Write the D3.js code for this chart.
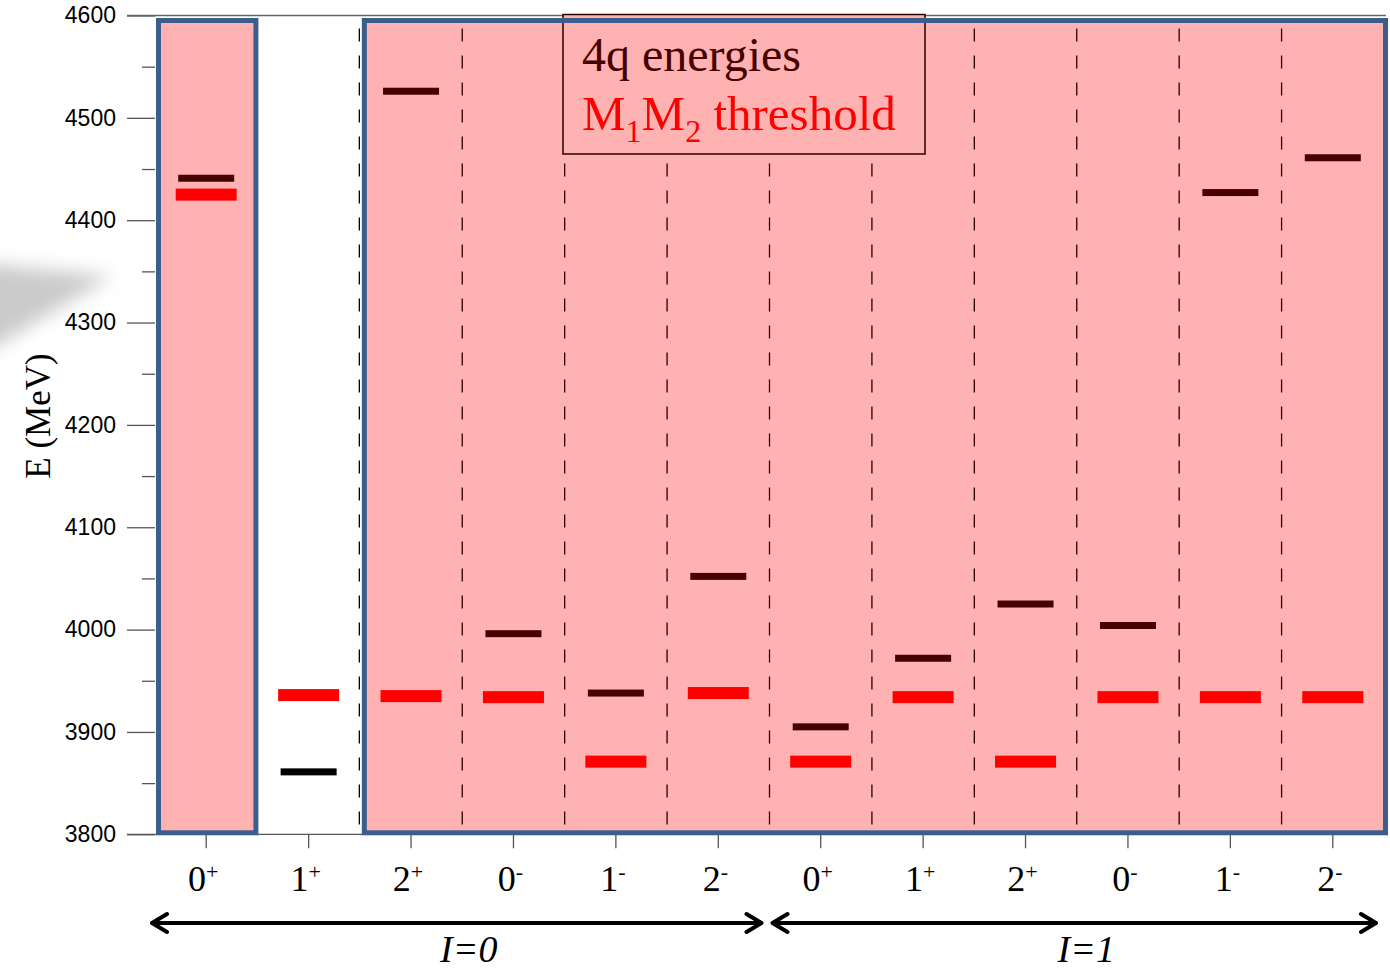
<!DOCTYPE html>
<meta charset="utf-8">
<html>
<head>
<style>
  body { margin: 0; background: #fff; }
  .axis path, .axis line { stroke: #555; stroke-width: 1.3px; }
  .axis text { font-family: "Liberation Sans", Arial, sans-serif; font-size: 23px; fill: #000; }
  .divider { stroke-width: 1.3px; stroke-dasharray: 13 14; }
  .arrow { fill: none; stroke: #000; stroke-width: 4px; stroke-linecap: round; stroke-linejoin: round; }
</style>
</head>
<body>
<svg width="1390" height="971"></svg>
<script src="https://d3js.org/d3.v7.min.js"></script>
<script>

// J^P of each column, first six I=0 then six I=1
var spins    = ["0", "1", "2", "0", "1", "2", "0", "1", "2", "0", "1", "2"];
var parities = ["+", "+", "+", "-", "-", "-", "+", "+", "+", "-", "-", "-"];

// 4q energies and M1M2 thresholds (MeV)
var energies4q = [4441, 3861, 4526, 3996, 3938, 4052, 3905, 3972, 4025, 4004, 4427, 4461];
var thresholds = [4425, 3936, 3935, 3934, 3871, 3938, 3871, 3934, 3871, 3934, 3934, 3934];

// shaded column ranges (first, last index)
var shaded = [[0, 0], [2, 11]];

// isospin groups
var isoLabels = ["0", "1"];
var isoRanges = [[0, 5], [6, 11]];

var yTicks = d3.range(3800, 4601, 100);

var svg = d3.select("svg");
var cols = d3.range(spins.length);

var x = d3.scaleBand().domain(cols).range([155, 1384]);
var y = d3.scaleLinear().domain([3800, 4600]).range([834.3, 15.5]);
var bw = x.bandwidth();

var isShaded = function(i) {
  return shaded.some(function(r) { return i >= r[0] && i <= r[1]; });
};

// soft grey shadow at the left edge (picture artefact)
var defs = svg.append("defs");
defs.append("filter").attr("id", "blur")
    .attr("x", "-50%").attr("y", "-50%").attr("width", "200%").attr("height", "200%")
  .append("feGaussianBlur").attr("stdDeviation", 9);
svg.append("polygon")
    .attr("points", "-30,262 112,276 -30,362")
    .attr("fill", "#cbcbcb")
    .attr("filter", "url(#blur)");

// pink fills
svg.selectAll(".shade")
  .data(shaded)
  .enter().append("rect")
    .attr("class", "shade")
    .attr("x", function(d) { return x(d[0]) + 3.5; })
    .attr("y", y(4600) + 5)
    .attr("width", function(d) { return x(d[1]) + bw - x(d[0]) - 3.5 + (d[1] === cols.length - 1 ? 1.5 : -1); })
    .attr("height", y(3800) - y(4600) - 6.5)
    .attr("fill", "#ffb2b2");

// dashed column separators
svg.selectAll(".divider")
  .data(d3.range(2, cols.length))
  .enter().append("line")
    .attr("class", "divider")
    .attr("x1", function(d) { return x(d) - (d === 2 ? 0.5 : 0); })
    .attr("x2", function(d) { return x(d) - (d === 2 ? 0.5 : 0); })
    .attr("y1", y(4600) + 13)
    .attr("y2", y(3800))
    .attr("stroke", function(d) { return d === 2 ? "#000" : "#2a0000"; });

// y axis
var yAxis = d3.axisLeft(y).tickValues(yTicks).tickSize(28).tickPadding(11).tickFormat(d3.format("d"));
var gy = svg.append("g").attr("class", "axis").attr("transform", "translate(155,0)").call(yAxis);
gy.select(".domain").remove();
svg.append("g").attr("class", "axis").attr("transform", "translate(155,0)")
    .call(d3.axisLeft(y).tickValues(yTicks.slice(0, -1).map(function(v) { return v + 50; })).tickSize(13).tickFormat(""))
    .select(".domain").remove();

// top frame line and x axis
svg.append("line").attr("class", "axis")
    .attr("x1", 127).attr("x2", 1386).attr("y1", y(4600)).attr("y2", y(4600))
    .attr("stroke", "#666").attr("stroke-width", 1.3);
var gx = svg.append("g").attr("class", "axis")
    .attr("transform", "translate(0," + y(3800) + ")")
    .call(d3.axisBottom(x).tickSize(14).tickFormat(""));
gx.select(".domain").attr("d", "M127,0H1386");

// tick labels J^P
var lbl = svg.selectAll(".jp")
  .data(cols)
  .enter().append("text")
    .attr("class", "jp")
    .attr("x", function(d) { return x(d) + bw / 2 - 3; })
    .attr("y", 891)
    .attr("text-anchor", "middle")
    .style("font-family", "'Liberation Serif', 'Times New Roman', serif")
    .style("font-size", "36px");
lbl.append("tspan").text(function(d) { return spins[d]; });
lbl.append("tspan").attr("dy", -12).style("font-size", "22px")
    .text(function(d) { return parities[d]; });

// threshold bars
svg.selectAll(".thr")
  .data(thresholds)
  .enter().append("rect")
    .attr("class", "thr")
    .attr("x", function(d, i) { return x(i) + bw / 2 - 30.5; })
    .attr("y", function(d) { return y(d) - 6; })
    .attr("width", 61)
    .attr("height", 12)
    .attr("fill", "#ff0000");

// 4q energy bars
svg.selectAll(".e4q")
  .data(energies4q)
  .enter().append("rect")
    .attr("class", "e4q")
    .attr("x", function(d, i) { return x(i) + bw / 2 - 28; })
    .attr("y", function(d) { return y(d) - 3.5; })
    .attr("width", 56)
    .attr("height", 7)
    .attr("fill", function(d, i) { return isShaded(i) ? "#470000" : "#000"; });

// legend
var leg = svg.append("g");
leg.append("rect")
    .attr("x", 563).attr("y", 14.5).attr("width", 362).attr("height", 139.5)
    .attr("fill", "#ffb2b2").attr("stroke", "#2a0000").attr("stroke-width", 1.5);
leg.append("text")
    .attr("x", 582).attr("y", 71)
    .style("font-family", "'Liberation Serif', 'Times New Roman', serif")
    .style("font-size", "48px").attr("fill", "#470000")
    .text("4q energies");
var lt = leg.append("text")
    .attr("x", 582).attr("y", 130)
    .style("font-family", "'Liberation Serif', 'Times New Roman', serif")
    .style("font-size", "49px").attr("fill", "#ff0000");
lt.append("tspan").text("M");
lt.append("tspan").attr("dy", 12).style("font-size", "32px").text("1");
lt.append("tspan").attr("dy", -12).text("M");
lt.append("tspan").attr("dy", 12).style("font-size", "32px").text("2");
lt.append("tspan").attr("dy", -12).text(" threshold");

// blue outlines of shaded regions
svg.selectAll(".box")
  .data(shaded)
  .enter().append("rect")
    .attr("class", "box")
    .attr("x", function(d) { return x(d[0]) + (d[0] === 0 ? 3.5 : 4.5); })
    .attr("y", y(4600) + 5)
    .attr("width", function(d) { return x(d[1]) + bw - x(d[0]) - (d[0] === 0 ? 5 : 3); })
    .attr("height", y(3800) - y(4600) - 6.5)
    .attr("fill", "none")
    .attr("stroke", "#3c5e8c")
    .attr("stroke-width", 5);

// y label
svg.append("text")
    .attr("transform", "translate(50,416) rotate(-90)")
    .attr("text-anchor", "middle")
    .style("font-family", "'Liberation Serif', 'Times New Roman', serif")
    .style("font-size", "35px")
    .text("E (MeV)");

// isospin arrows
var ay = 923;
isoRanges.forEach(function(r, k) {
  var x0 = x(r[0]) - (k === 0 ? 3 : -3);
  var x1 = x(r[1]) + bw - 8;
  svg.append("path").attr("class", "arrow")
      .attr("d", "M" + x0 + "," + ay + "H" + x1 +
                 "M" + (x0 + 15) + "," + (ay - 9) + "L" + x0 + "," + ay + "L" + (x0 + 15) + "," + (ay + 9) +
                 "M" + (x1 - 15) + "," + (ay - 9) + "L" + x1 + "," + ay + "L" + (x1 - 15) + "," + (ay + 9));
  svg.append("text")
      .attr("x", (x0 + x1) / 2 + 12)
      .attr("y", 962)
      .attr("text-anchor", "middle")
      .style("font-family", "'Liberation Serif', 'Times New Roman', serif")
      .style("font-size", "38px")
      .style("font-style", "italic")
      .text("I=" + isoLabels[k]);
});

</script>
</body>
</html>
